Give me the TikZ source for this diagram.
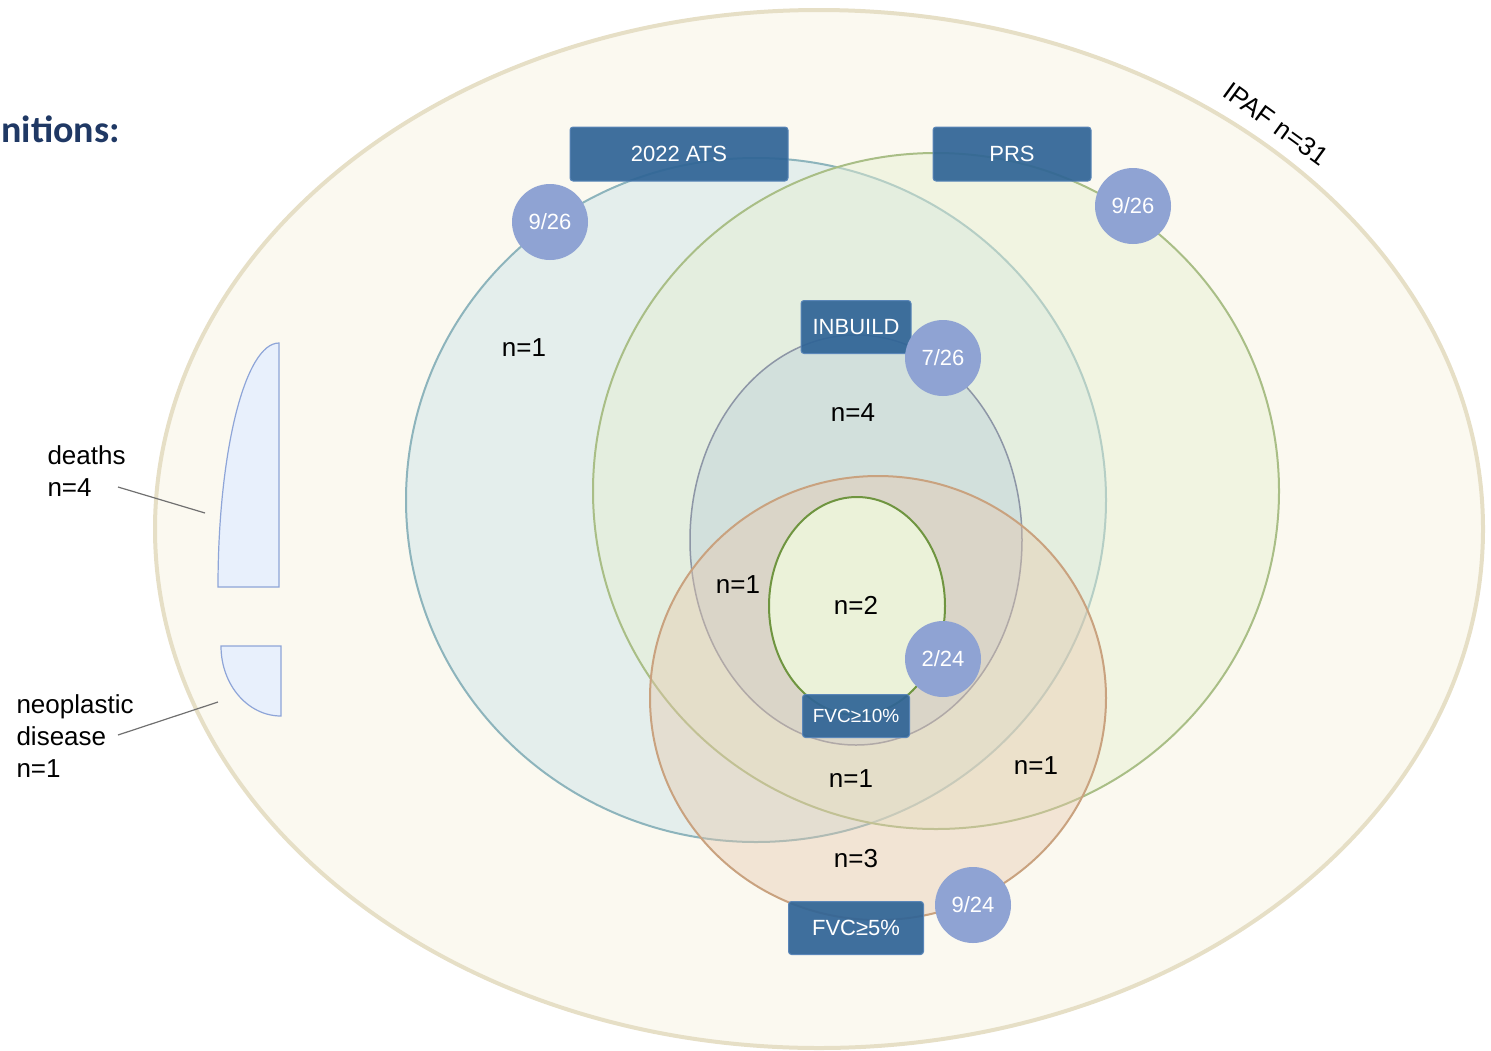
\documentclass[tikz,border=0pt]{standalone}
\usepackage{fontspec}
\setmainfont{Liberation Sans}
\newfontfamily\headfont{Carlito}
\usetikzlibrary{positioning}

\definecolor{ipaffill}{HTML}{FBF9F0}
\definecolor{ipafedge}{HTML}{E6DFC6}
\definecolor{atsfill}{HTML}{CFE5EA}
\definecolor{atsedge}{HTML}{8DB4BC}
\definecolor{prsfill}{HTML}{E6EFD0}
\definecolor{prsedge}{HTML}{A9BE86}
\definecolor{inbfill}{HTML}{B9CCD8}
\definecolor{inbedge}{HTML}{8D96A6}
\definecolor{fivefill}{HTML}{E6C6AA}
\definecolor{fiveedge}{HTML}{C9A27F}
\definecolor{tenfill}{HTML}{EBF2D9}
\definecolor{tenedge}{HTML}{6F9540}
\definecolor{boxblue}{HTML}{2F6496}
\definecolor{boxedge}{HTML}{5A86B8}
\definecolor{badgeblue}{HTML}{8FA3D3}
\definecolor{partfill}{HTML}{E8F0FC}
\definecolor{partedge}{HTML}{8EA5D8}
\definecolor{leadgrey}{HTML}{707070}
\definecolor{headblue}{HTML}{1F3864}

\begin{document}
\begin{tikzpicture}[
    x=1pt, y=-1pt,
    setbox/.style={draw=boxedge, fill=boxblue, fill opacity=0.92, text opacity=1,
        text=white, rounded corners=3pt, line width=1pt, inner sep=0pt,
        font=\fontsize{22}{24}\selectfont},
    badge/.style={circle, fill=badgeblue, text=white, minimum size=76pt,
        inner sep=0pt, font=\fontsize{22}{24}\selectfont},
    count/.style={font=\fontsize{26}{28}\selectfont},
    side/.style={align=left, anchor=west, font=\fontsize{26}{32}\selectfont},
    lead/.style={draw=leadgrey, line width=1.2pt},
    part/.style={draw=partedge, fill=partfill, line width=1.2pt}
]
\useasboundingbox (0,0) rectangle (1491,1050);

% sets
\draw[draw=ipafedge, fill=ipaffill, line width=4pt] (819,529) ellipse [x radius=664pt, y radius=519pt];
\draw[draw=atsedge, fill=atsfill, fill opacity=0.5, line width=2pt] (756,500) ellipse [x radius=350pt, y radius=342pt];
\draw[draw=prsedge, fill=prsfill, fill opacity=0.45, line width=2pt] (936,491) ellipse [x radius=343pt, y radius=338pt];
\draw[draw=inbedge, fill=inbfill, fill opacity=0.4, line width=1.5pt] (856,540) ellipse [x radius=166pt, y radius=205pt];
\draw[draw=fiveedge, fill=fivefill, fill opacity=0.4, line width=2pt] (878,698) ellipse [x radius=228pt, y radius=222pt];
\draw[draw=tenedge, fill=tenfill, line width=2pt] (857,606) ellipse [x radius=88pt, y radius=109pt];

% left parts
\draw[part] (279,343) -- (279,587) -- (218,587) .. controls (218,452) and (245,343) .. (279,343) -- cycle;
\draw[part] (221,646) -- (281,646) -- (281,716) .. controls (248,716) and (221,685) .. (221,646) -- cycle;

% titles
\node[anchor=west, text=headblue, font=\headfont\bfseries\fontsize{38}{40}\selectfont] (head) at (-2,129) {nitions:};
\node[rotate=-36, font=\fontsize{26}{28}\selectfont] (ipaf) at (1276,124) {IPAF n=31};

% set labels
\node[setbox, minimum width=218pt, minimum height=54pt] (ats) at (679,154) {2022 ATS};
\node[setbox, minimum width=158pt, minimum height=54pt] (prs) at (1012,154) {PRS};
\node[setbox, minimum width=110pt, minimum height=53pt] (inb) at (856,327) {INBUILD};
\node[setbox, minimum width=107pt, minimum height=43pt, font=\fontsize{19}{20}\selectfont] (ten) at (856,716) {FVC≥10\%};
\node[setbox, minimum width=135pt, minimum height=53pt] (five) at (856,928) {FVC≥5\%};

% badges
\node[badge] (atsb) at (550,222) {9/26};
\node[badge] (prsb) at (1133,206) {9/26};
\node[badge] (inbb) at (943,358) {7/26};
\node[badge] (tenb) at (943,659) {2/24};
\node[badge] (fiveb) at (973,905) {9/24};

% counts
\node[count] (c1) at (524,348) {n=1};
\node[count] (c2) at (853,413) {n=4};
\node[count] (c3) at (738,585) {n=1};
\node[count] (c4) at (856,605) {n=2};
\node[count] (c5) at (851,779) {n=1};
\node[count] (c6) at (1036,766) {n=1};
\node[count] (c7) at (856,859) {n=3};

% side notes
\node[side] (deaths) at (44,471) {deaths\\n=4};
\node[side] (neo) at (13,736) {neoplastic\\disease\\n=1};
\coordinate (dfoot) at (118,487);
\coordinate (dtip) at (205,513);
\coordinate (nfoot) at (118,735);
\coordinate (ntip) at (218,702);
\draw[lead] (dfoot) -- (dtip);
\draw[lead] (nfoot) -- (ntip);

\end{tikzpicture}
\end{document}
